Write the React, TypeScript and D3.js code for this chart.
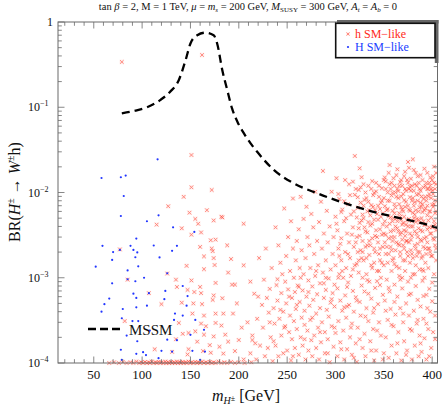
import React from "react";
import * as d3 from "d3";

// charged Higgs mass [GeV] vs BR(H+ -> W+ h)
const mssmMass = [79, 93, 105, 119, 129, 138, 145, 150, 157, 165.5, 174, 177.6, 183, 188, 193, 199, 205, 212, 219, 236, 257, 281, 305, 333, 360, 388, 407];
const mssmBR = [0.085, 0.091, 0.1, 0.122, 0.152, 0.209, 0.358, 0.56, 0.7, 0.75, 0.7, 0.56, 0.27, 0.16, 0.097, 0.066, 0.05, 0.038, 0.03, 0.0185, 0.0128, 0.0098, 0.0078, 0.0062, 0.0052, 0.0044, 0.0038];

const xTicks = [50, 100, 150, 200, 250, 300, 350, 400];
const yDecades = [1e-4, 1e-3, 1e-2, 1e-1, 1];
const yExponents = ["-4", "-3", "-2", "-1", ""];

// H SM-like points (blue)
const hHeavySM: [number, number][] = [
  [116, 2.45e-2], [58, 1.48e-2], [78, 1.51e-2], [83, 1.58e-2], [81, 9.1e-3], [78, 5.3e-3], [117, 5.4e-3], [105, 4.6e-3],
  [132, 3.9e-3], [154, 3.45e-3], [94, 2.88e-3], [59, 2.37e-3], [88, 2.37e-3], [70, 2.0e-3], [77, 2.12e-3], [91, 2.12e-3],
  [112, 2.39e-3], [95, 1.98e-3], [136, 2.37e-3], [131, 2.07e-3], [118, 1.73e-3], [69, 1.62e-3], [93, 1.74e-3], [52, 1.35e-3],
  [96, 1.36e-3], [85, 1.22e-3], [126, 1.13e-3], [69, 8.6e-4], [93, 9.1e-4], [102, 1.0e-3], [85, 9.6e-4], [142, 8.0e-4],
  [147, 6.1e-4], [124, 7.0e-4], [107, 6.6e-4], [91, 6.5e-4], [66, 5.7e-4], [61, 4.9e-4], [94, 5.8e-4], [123, 5.6e-4],
  [105, 4.7e-4], [94, 4.5e-4], [58, 4.0e-4], [80, 4.3e-4], [146, 4.7e-4], [79, 3.35e-4], [133, 3.2e-4], [142, 3.6e-4],
  [134, 3.8e-4], [155, 3.2e-4], [90, 3.1e-4], [96, 3.1e-4], [84, 2.1e-4], [95, 1.8e-4], [108, 2.4e-4], [126, 1.88e-4],
  [136, 1.85e-4], [150, 2.14e-4], [78, 1.43e-4], [101, 1.34e-4], [120, 1.39e-4], [131, 1.36e-4], [152, 1.39e-4], [164, 2.45e-4],
  [165, 1.36e-4], [79, 1.09e-4], [94, 1.28e-4], [104, 1.24e-4], [117, 1.14e-4], [160, 1.09e-4],
];

// h SM-like points (red), low mass region above the floor
const hSparse: [number, number][] = [
  [79, 0.34], [162, 0.41], [151, 2.75e-2], [151, 1.15e-2], [172, 1.07e-2], [143, 8.9e-3], [127, 6.9e-3], [149, 5.8e-3],
  [155, 4.9e-3], [182, 5.2e-3], [115, 4.2e-3], [141, 3.8e-3], [158, 4.3e-3], [161, 3.4e-3], [151, 3.2e-3], [176, 2.8e-3],
  [171, 2.75e-3], [77, 2.15e-3], [160, 2.3e-3], [172, 2.2e-3], [173, 2.05e-3], [164, 1.78e-3], [174, 1.7e-3], [192, 1.66e-3],
  [175, 1.41e-3], [146, 1.38e-3], [164, 1.26e-3], [189, 1.15e-3], [126, 1.12e-3], [85, 9.5e-4], [135, 9.5e-4], [151, 9.3e-4],
  [176, 8.7e-4], [193, 8.3e-4], [196, 8.3e-4], [136, 7.8e-4], [160, 7.8e-4], [147, 7.2e-4], [107, 6.6e-4], [154, 6.8e-4],
  [161, 6.6e-4], [174, 6.2e-4], [183, 5.75e-4], [141, 5.1e-4], [153, 5.0e-4], [162, 4.9e-4], [173, 5.5e-4], [220, 6.0e-4],
  [120, 4.9e-4], [152, 3.8e-4], [164, 3.6e-4], [176, 3.8e-4], [184, 3.8e-4], [194, 3.8e-4], [82, 3.1e-4], [138, 2.95e-4],
  [161, 2.9e-4], [166, 2.7e-4], [176, 2.95e-4], [182, 2.75e-4], [203, 2.6e-4], [148, 2.25e-4], [142, 2.2e-4], [155, 2.35e-4],
  [164, 2.15e-4], [174, 2.05e-4], [186, 2.15e-4], [200, 1.86e-4], [214, 1.86e-4], [217, 1.7e-4], [135, 1.9e-4], [157, 1.78e-4],
  [170, 1.62e-4], [180, 1.55e-4], [189, 1.78e-4], [148, 1.45e-4], [113, 1.45e-4], [163, 1.38e-4], [171, 1.32e-4], [184, 1.29e-4],
  [196, 1.38e-4], [205, 1.1e-4], [147, 1.26e-4], [131, 1.35e-4], [209, 3.0e-4], [198, 5.0e-4], [205, 1.4e-3], [188, 2.4e-3],
  [212, 9.0e-4], [167, 6.2e-3], [174, 4.7e-3], [183, 5.1e-3], [205, 4.3e-3],
];

// h SM-like points piled on the lower edge
const hFloor: [number, number][] = [
  [66, 1.0e-4], [71, 1.02e-4], [76, 1.0e-4], [80, 1.03e-4], [84, 1.0e-4], [88, 1.02e-4], [91, 1.0e-4], [94, 1.04e-4],
  [97, 1.0e-4], [99, 1.02e-4], [101, 1.0e-4], [103, 1.03e-4], [105, 1.0e-4], [107, 1.02e-4], [108, 1.0e-4], [110, 1.04e-4],
  [112, 1.0e-4], [114, 1.02e-4], [115, 1.0e-4], [117, 1.03e-4], [119, 1.0e-4], [120, 1.02e-4], [122, 1.0e-4], [124, 1.04e-4],
  [125, 1.0e-4], [127, 1.02e-4], [128, 1.0e-4], [130, 1.03e-4], [131, 1.0e-4], [133, 1.02e-4], [134, 1.0e-4], [136, 1.04e-4],
  [137, 1.0e-4], [139, 1.02e-4], [140, 1.0e-4], [142, 1.03e-4], [143, 1.0e-4], [145, 1.02e-4], [146, 1.0e-4], [148, 1.04e-4],
  [150, 1.0e-4], [151, 1.02e-4], [153, 1.0e-4], [155, 1.03e-4], [157, 1.0e-4], [158, 1.02e-4], [160, 1.0e-4], [162, 1.04e-4],
  [164, 1.0e-4], [166, 1.02e-4], [168, 1.0e-4], [170, 1.03e-4], [172, 1.0e-4], [174, 1.02e-4], [176, 1.0e-4], [179, 1.04e-4],
  [182, 1.0e-4], [185, 1.02e-4], [188, 1.0e-4], [192, 1.03e-4], [196, 1.0e-4], [200, 1.02e-4], [206, 1.0e-4], [213, 1.02e-4],
];

// h SM-like cloud, 210-300 GeV
const hCloudA: [number, number][] = [
  [212, 1.3e-4], [214, 2.1e-4], [216, 6.5e-4], [218, 1.1e-4], [219, 3.3e-4], [221, 1.7e-3], [222, 1.6e-4], [224, 4.8e-4],
  [225, 2.6e-4], [226, 9.5e-4], [227, 1.2e-4], [228, 2.2e-3], [229, 5.8e-4], [230, 1.5e-4], [231, 3.9e-4], [232, 7.4e-4],
  [233, 2.0e-4], [234, 1.3e-3], [235, 1.05e-4], [236, 4.4e-4], [237, 2.9e-4], [238, 3.9e-3], [238, 1.6e-4], [239, 8.2e-4],
  [240, 5.4e-4], [241, 1.2e-4], [241, 2.4e-3], [242, 3.3e-4], [243, 1.5e-3], [244, 2.1e-4], [244, 6.6e-4], [245, 1.1e-3],
  [246, 4.0e-4], [246, 1.3e-4], [247, 6.5e-3], [247, 2.6e-4], [248, 9.0e-4], [249, 1.8e-3], [249, 5.0e-4], [250, 1.4e-4],
  [251, 3.0e-3], [251, 7.3e-4], [252, 2.3e-4], [253, 1.2e-3], [253, 3.6e-4], [254, 1.07e-4], [254, 4.6e-3], [255, 5.8e-4],
  [255, 1.9e-4], [256, 8.5e-3], [256, 2.2e-3], [257, 1.0e-3], [257, 3.1e-4], [258, 6.8e-4], [258, 1.5e-4], [259, 1.6e-3],
  [259, 4.3e-4], [260, 2.7e-3], [260, 2.5e-4], [261, 8.1e-4], [262, 1.25e-4], [262, 3.7e-3], [263, 5.2e-4], [263, 1.3e-3],
  [264, 2.0e-4], [264, 8.9e-3], [265, 3.4e-4], [265, 2.1e-3], [266, 7.1e-4], [266, 1.6e-4], [267, 4.9e-3], [267, 1.1e-3],
  [268, 4.1e-4], [268, 2.8e-4], [269, 1.7e-3], [269, 1.1e-4], [270, 6.0e-4], [270, 6.8e-3], [271, 2.4e-4], [271, 3.0e-3],
  [272, 9.3e-4], [272, 1.4e-4], [273, 4.7e-4], [273, 2.4e-3], [274, 1.3e-3], [274, 3.2e-4], [275, 1.85e-4], [275, 5.6e-3],
  [276, 7.9e-4], [276, 1.2e-4], [277, 3.9e-3], [277, 5.5e-4], [278, 2.1e-4], [278, 1.9e-3], [279, 1.02e-2], [279, 1.05e-3],
  [280, 3.8e-4], [280, 1.5e-4], [281, 2.7e-3], [281, 6.4e-4], [282, 2.6e-4], [282, 1.4e-3], [283, 4.5e-3], [283, 1.1e-4],
  [284, 8.6e-4], [284, 4.4e-4], [285, 7.8e-3], [285, 1.75e-4], [286, 2.2e-3], [286, 3.0e-4], [287, 1.15e-3], [287, 1.79e-2],
  [288, 5.8e-4], [288, 3.3e-3], [289, 2.3e-4], [289, 1.3e-4], [290, 1.6e-3], [290, 7.2e-4], [291, 4.2e-4], [291, 6.1e-3],
  [292, 1.9e-4], [292, 2.6e-3], [293, 9.8e-4], [293, 3.5e-4], [294, 1.02e-4], [294, 4.0e-3], [295, 5.1e-4], [295, 1.25e-3],
  [296, 2.7e-4], [296, 1.02e-2], [297, 1.9e-3], [297, 6.6e-4], [298, 1.55e-4], [298, 3.0e-3], [299, 8.3e-4], [299, 4.6e-4],
  [300, 2.25e-4], [300, 5.2e-3], [300, 1.4e-3],
];

// h SM-like cloud, 300-350 GeV
const hCloudB: [number, number][] = [
  [301, 1.47e-2], [302, 1.2e-4], [302, 3.6e-3], [302, 7.5e-4], [303, 2.2e-3], [303, 3.1e-4], [304, 1.1e-3], [304, 8.4e-3],
  [305, 1.75e-4], [305, 5.4e-4], [306, 2.9e-3], [306, 1.6e-3], [307, 4.1e-4], [307, 6.3e-3], [308, 2.4e-4], [308, 1.0e-3],
  [309, 4.6e-3], [309, 1.1e-4], [310, 1.4e-2], [310, 2.0e-3], [310, 6.2e-4], [311, 3.4e-4], [311, 1.3e-3], [312, 3.3e-3],
  [312, 1.45e-4], [313, 8.8e-4], [313, 7.3e-3], [314, 2.6e-3], [314, 4.8e-4], [315, 2.0e-4], [315, 1.7e-3], [316, 5.5e-3],
  [316, 1.05e-3], [317, 2.9e-4], [317, 1.25e-4], [318, 1.34e-2], [318, 3.9e-3], [318, 7.0e-4], [319, 2.3e-3], [319, 4.0e-4],
  [320, 1.4e-3], [320, 2.68e-2], [320, 9.4e-3], [321, 1.7e-4], [321, 5.9e-4], [322, 3.0e-3], [322, 1.03e-4], [323, 6.6e-3],
  [323, 2.6e-4], [324, 1.07e-2], [324, 1.15e-3], [325, 1.92e-2], [325, 4.4e-3], [325, 5.2e-4], [326, 2.1e-3], [326, 3.6e-4],
  [327, 1.51e-2], [327, 8.1e-4], [328, 1.5e-4], [328, 2.7e-3], [329, 5.0e-3], [329, 1.6e-3], [330, 2.2e-4], [330, 8.2e-3],
  [330, 6.9e-4], [331, 3.5e-3], [331, 1.2e-4], [332, 1.1e-3], [332, 4.4e-4], [333, 2.4e-3], [333, 6.0e-3], [334, 3.1e-4],
  [334, 1.2e-2], [335, 1.85e-3], [335, 9.0e-4], [336, 4.1e-3], [336, 1.8e-4], [337, 5.7e-4], [337, 7.1e-3], [338, 1.36e-2],
  [338, 2.9e-3], [338, 1.3e-3], [339, 2.5e-4], [339, 3.9e-4], [340, 4.8e-3], [340, 9.9e-3], [340, 1.07e-4], [341, 2.0e-3],
  [341, 7.6e-4], [342, 3.6e-3], [342, 1.4e-4], [343, 1.2e-3], [343, 5.6e-3], [344, 4.9e-4], [344, 2.6e-3], [345, 8.9e-3],
  [345, 3.0e-4], [346, 1.6e-3], [346, 6.4e-3], [347, 2.1e-4], [347, 1.0e-3], [348, 3.2e-3], [348, 1.12e-2], [349, 6.3e-4],
  [349, 4.2e-3], [350, 1.4e-2], [350, 1.4e-3], [350, 1.3e-4], [301, 4.3e-3], [303, 9.6e-3], [305, 2.5e-3], [307, 1.2e-3],
  [309, 7.9e-3], [311, 5.0e-3], [313, 1.9e-3], [315, 9.3e-3], [317, 3.2e-3], [319, 6.0e-3], [321, 1.1e-2], [322, 1.45e-3],
  [324, 3.8e-3], [326, 7.6e-3], [328, 5.5e-3], [329, 1.25e-2], [331, 2.3e-3], [332, 8.6e-3], [334, 4.5e-3], [336, 2.4e-3],
  [337, 1.1e-2], [339, 6.8e-3], [341, 3.1e-3], [342, 1.03e-2], [344, 7.0e-3], [345, 1.9e-3], [347, 5.2e-3], [348, 8.0e-3],
  [349, 2.3e-3], [343, 9.1e-4], [306, 5.9e-3], [314, 1.25e-2], [323, 2.0e-3], [335, 6.2e-3], [346, 3.7e-3], [304, 1.8e-3],
  [312, 4.6e-4], [327, 1.7e-3], [333, 9.4e-4], [340, 1.5e-3],
];

// h SM-like cloud, 350-405 GeV
const hCloudC: [number, number][] = [
  [351, 2.6e-3], [351, 6.9e-3], [351, 5.4e-4], [352, 1.1e-2], [352, 1.9e-3], [352, 2.0e-4], [353, 4.0e-3], [353, 9.5e-4],
  [354, 8.0e-3], [354, 3.2e-4], [354, 1.5e-3], [355, 5.3e-3], [355, 1.15e-4], [355, 2.9e-3], [356, 2.1e-2], [356, 1.25e-2],
  [356, 6.9e-4], [357, 3.5e-3], [357, 2.3e-3], [357, 4.3e-4], [358, 9.2e-3], [358, 1.2e-3], [358, 1.6e-4], [359, 6.1e-3],
  [359, 4.6e-3], [360, 2.7e-4], [360, 1.7e-3], [360, 1.47e-2], [361, 3.0e-3], [361, 8.3e-4], [361, 7.3e-3], [362, 2.1e-3],
  [362, 1.0e-2], [362, 3.7e-4], [363, 5.0e-3], [363, 1.3e-4], [363, 1.35e-3], [364, 1.87e-2], [364, 3.8e-3], [364, 6.0e-4],
  [365, 2.5e-3], [365, 8.6e-3], [365, 2.3e-4], [366, 1.2e-2], [366, 1.05e-3], [366, 5.7e-3], [367, 4.4e-4], [367, 3.2e-3],
  [367, 1.8e-3], [368, 6.7e-3], [368, 1.07e-4], [368, 1.4e-2], [369, 2.8e-3], [369, 7.5e-4], [369, 4.2e-3], [370, 1.6e-3],
  [370, 9.6e-3], [370, 3.0e-4], [371, 5.2e-3], [371, 2.2e-3], [371, 1.8e-4], [372, 1.75e-2], [372, 1.1e-2], [372, 1.2e-3],
  [373, 3.5e-3], [373, 5.0e-4], [373, 7.8e-3], [374, 2.0e-3], [374, 4.7e-3], [374, 1.4e-4], [375, 2.28e-2], [375, 1.3e-2],
  [375, 9.0e-4], [376, 6.3e-3], [376, 2.6e-3], [376, 3.6e-4], [377, 1.5e-3], [377, 8.8e-3], [377, 2.5e-4], [378, 4.0e-3],
  [378, 1.05e-2], [378, 6.5e-4], [379, 3.1e-3], [379, 1.9e-3], [379, 1.1e-4], [380, 2.45e-2], [380, 5.8e-3], [380, 1.1e-3],
  [381, 1.84e-2], [381, 7.0e-3], [381, 4.1e-4], [382, 2.4e-3], [382, 1.25e-2], [382, 1.6e-4], [383, 4.5e-3], [383, 1.4e-3],
  [383, 8.0e-4], [384, 9.4e-3], [384, 3.3e-3], [384, 2.9e-4], [385, 1.55e-2], [385, 2.0e-3], [385, 5.5e-4], [386, 6.0e-3],
  [386, 1.2e-4], [386, 3.8e-3], [387, 1.1e-2], [387, 1.25e-3], [387, 2.1e-4], [388, 2.8e-3], [388, 7.6e-3], [388, 4.6e-4],
  [389, 5.0e-3], [389, 1.7e-3], [389, 1.35e-4], [390, 1.4e-2], [390, 3.5e-3], [390, 9.2e-4], [391, 2.3e-3], [391, 8.4e-3],
  [391, 3.3e-4], [392, 4.2e-3], [392, 1.0e-3], [392, 1.95e-4], [393, 1.2e-2], [393, 6.5e-3], [393, 1.5e-3], [394, 3.0e-3],
  [394, 6.3e-4], [394, 1.1e-4], [395, 1.7e-2], [395, 5.4e-3], [395, 2.6e-3], [396, 9.0e-3], [396, 2.5e-4], [396, 1.3e-3],
  [397, 3.9e-3], [397, 7.4e-4], [397, 1.3e-2], [398, 2.0e-3], [398, 6.0e-3], [398, 4.0e-4], [399, 1.1e-2], [399, 3.3e-3],
  [399, 1.5e-4], [400, 7.2e-3], [400, 1.8e-3], [400, 5.3e-4], [401, 2.9e-3], [401, 1.55e-2], [401, 2.3e-4], [402, 2.01e-2],
  [402, 4.6e-3], [402, 1.1e-3], [403, 8.1e-3], [403, 2.4e-3], [403, 3.6e-4], [404, 1.25e-2], [404, 3.6e-3], [404, 1.6e-3],
  [351, 1.5e-2], [353, 6.2e-3], [355, 1.7e-2], [357, 1.1e-2], [359, 2.7e-3], [361, 1.45e-3], [362, 4.0e-3], [364, 1.1e-2],
  [366, 2.4e-3], [368, 4.8e-3], [370, 6.0e-3], [371, 1.55e-2], [373, 2.7e-3], [375, 4.0e-3], [377, 1.17e-2], [378, 2.1e-3],
  [380, 8.6e-3], [382, 5.5e-3], [383, 1.7e-2], [385, 3.0e-3], [386, 9.6e-3], [388, 1.6e-2], [389, 6.8e-3], [391, 1.2e-3],
  [392, 1.9e-2], [394, 8.0e-3], [395, 3.7e-3], [397, 2.2e-3], [398, 1.5e-2], [400, 1.05e-2], [401, 4.0e-3], [403, 5.7e-3],
  [404, 2.2e-3], [352, 3.2e-3], [356, 4.3e-3], [360, 5.0e-3], [363, 8.9e-3], [367, 1.33e-2], [369, 1.0e-3], [372, 3.1e-3],
  [376, 1.95e-2], [379, 4.6e-3], [384, 1.8e-3], [387, 4.4e-3], [390, 5.9e-3], [393, 2.2e-3], [396, 1.1e-2], [399, 8.6e-3],
  [402, 1.3e-2], [358, 2.1e-3],
];

// h SM-like, densest core 320-405 GeV
const hCore: [number, number][] = [
  [321, 2.6e-3], [322, 5.1e-3], [323, 8.8e-3], [324, 1.6e-3], [325, 3.1e-3], [326, 1.15e-2], [327, 4.7e-3], [328, 2.0e-3],
  [329, 7.0e-3], [330, 3.9e-3], [331, 1.0e-2], [332, 1.7e-3], [333, 3.4e-3], [334, 7.8e-3], [335, 2.7e-3], [336, 5.4e-3],
  [337, 1.4e-3], [338, 4.3e-3], [339, 9.3e-3], [340, 2.2e-3], [341, 6.2e-3], [342, 1.3e-2], [343, 3.0e-3], [344, 4.8e-3],
  [345, 1.2e-2], [346, 2.2e-3], [347, 7.6e-3], [348, 1.5e-3], [349, 5.7e-3], [350, 3.3e-3], [350, 8.6e-3], [351, 4.6e-3],
  [352, 1.35e-2], [353, 2.3e-3], [354, 1.0e-2], [354, 6.4e-3], [355, 1.9e-3], [356, 8.0e-3], [357, 5.1e-3], [358, 3.0e-3],
  [358, 1.3e-2], [359, 1.6e-3], [359, 9.9e-3], [360, 3.6e-3], [361, 5.7e-3], [361, 1.2e-2], [362, 6.7e-3], [363, 2.6e-3],
  [363, 1.6e-2], [364, 4.6e-3], [365, 1.04e-2], [365, 3.5e-3], [366, 7.3e-3], [367, 2.0e-3], [367, 5.2e-3], [368, 9.0e-3],
  [368, 3.4e-3], [369, 1.2e-2], [369, 6.3e-3], [370, 2.4e-3], [370, 4.4e-3], [371, 8.1e-3], [371, 3.6e-3], [372, 1.6e-3],
  [372, 6.8e-3], [373, 1.05e-2], [373, 4.2e-3], [374, 1.4e-2], [374, 2.7e-3], [375, 7.0e-3], [375, 1.8e-3], [376, 4.9e-3],
  [376, 1.1e-2], [377, 3.3e-3], [377, 6.1e-3], [378, 1.45e-2], [378, 2.8e-3], [379, 8.0e-3], [379, 1.2e-2], [380, 4.0e-3],
  [380, 1.7e-3], [381, 5.0e-3], [381, 1.05e-2], [382, 3.5e-3], [382, 7.7e-3], [383, 2.2e-3], [383, 6.2e-3], [384, 1.2e-2],
  [384, 4.9e-3], [385, 8.0e-3], [385, 2.5e-3], [386, 1.3e-2], [386, 4.8e-3], [387, 6.7e-3], [387, 2.0e-3], [388, 3.6e-3],
  [388, 1.05e-2], [389, 9.0e-3], [389, 2.7e-3], [390, 7.3e-3], [390, 1.8e-3], [391, 4.6e-3], [391, 1.15e-2], [392, 6.2e-3],
  [392, 2.9e-3], [393, 8.9e-3], [393, 4.2e-3], [394, 1.3e-2], [394, 1.9e-3], [395, 7.0e-3], [395, 1.1e-2], [396, 4.7e-3],
  [396, 2.2e-3], [397, 6.0e-3], [397, 9.6e-3], [398, 3.3e-3], [398, 1.2e-2], [399, 5.1e-3], [399, 1.8e-3], [400, 1.4e-2],
  [400, 3.9e-3], [401, 6.8e-3], [401, 9.6e-3], [402, 2.8e-3], [402, 7.3e-3], [403, 1.1e-2], [403, 4.2e-3], [404, 6.0e-3],
  [404, 1.7e-2],
];

// h SM-like, extra low-BR fill 230-405 GeV
const hLowFill: [number, number][] = [
  [232, 3.0e-4], [236, 1.8e-4], [240, 9.6e-4], [243, 4.2e-4], [248, 2.7e-4], [252, 6.0e-4], [256, 1.2e-4], [260, 4.8e-4],
  [264, 1.0e-3], [268, 1.9e-4], [272, 6.8e-4], [276, 3.4e-4], [280, 1.2e-3], [284, 2.3e-4], [288, 8.6e-4], [292, 1.3e-4],
  [296, 5.6e-4], [299, 2.6e-4], [303, 1.0e-3], [306, 1.45e-4], [309, 4.5e-4], [312, 7.8e-4], [316, 2.6e-4], [319, 1.15e-4],
  [322, 5.4e-4], [325, 1.9e-4], [328, 1.0e-3], [331, 3.5e-4], [334, 6.5e-4], [337, 1.4e-4], [340, 4.4e-4], [343, 2.4e-4],
  [346, 8.2e-4], [349, 1.1e-4], [352, 4.1e-4], [355, 7.6e-4], [358, 2.8e-4], [361, 5.2e-4], [364, 1.7e-4], [367, 9.5e-4],
  [370, 3.8e-4], [373, 1.25e-4], [376, 6.3e-4], [379, 2.4e-4], [382, 1.1e-3], [385, 3.2e-4], [388, 1.7e-4], [391, 6.1e-4],
  [394, 2.9e-4], [397, 1.2e-4], [400, 8.8e-4], [403, 1.9e-4], [366, 1.3e-3], [378, 1.0e-3], [390, 1.25e-3], [345, 1.2e-3],
  [318, 1.25e-3], [290, 1.0e-3], [262, 7.8e-4], [395, 4.4e-4],
];

const W = 443;
const H = 409;
const plot = { left: 58, right: 437.5, top: 22, bottom: 363 };
const serif = "'Liberation Serif', 'DejaVu Serif', 'Times New Roman', serif";
const frameColor = "#6a6a6a";
const redMark = "#ff3b2b";
const blueMark = "#2236ff";

function XMark({ x, y, s = 1.8 }: { x: number; y: number; s?: number }) {
  return (
    <g>
      <rect x={x - s - 0.5} y={y - s - 0.5} width={2 * s + 1} height={2 * s + 1} fill="#ff8c80" opacity={0.14} />
      <path d={`M${x - s},${y - s}L${x + s},${y + s}M${x - s},${y + s}L${x + s},${y - s}`} stroke={redMark} strokeWidth={0.9} opacity={0.62} />
    </g>
  );
}

export default function App() {
  const x = d3.scaleLinear().domain([13, 405.5]).range([plot.left, plot.right]);
  const y = d3.scaleLog().domain([1e-4, 1]).range([plot.bottom, plot.top]);

  const xMinor = d3.range(20, 406, 10).filter((v) => v % 50 !== 0);
  const yMinor: number[] = [];
  yDecades.slice(0, -1).forEach((d) => {
    for (let k = 2; k <= 9; k++) yMinor.push(d * k);
  });

  const mssm = mssmMass.map((m, i) => [m, mssmBR[i]] as [number, number]);
  const line = d3
    .line<[number, number]>()
    .x((d) => x(d[0]))
    .y((d) => y(d[1]))
    .curve(d3.curveMonotoneX);

  const redPts = [...hSparse, ...hCloudA, ...hLowFill, ...hCloudB, ...hCloudC, ...hCore, ...hFloor];

  const majLen = 6.5;
  const minLen = 3.8;

  return (
    <svg width={W} height={H} style={{ position: "absolute", left: 0, top: 0, background: "#fff" }} fontFamily={serif}>
      <defs>
        <clipPath id="plotClip">
          <rect x={plot.left} y={plot.top - 4} width={plot.right - plot.left} height={plot.bottom - plot.top + 8} />
        </clipPath>
      </defs>

      {/* title */}
      <text x={248} y={10} textAnchor="middle" fontSize={10.5} fill="#111">
        <tspan>{"tan "}</tspan>
        <tspan fontStyle="italic">β</tspan>
        <tspan>{" = 2,  M = 1 TeV,  "}</tspan>
        <tspan fontStyle="italic">μ</tspan>
        <tspan>{" = "}</tspan>
        <tspan fontStyle="italic">m</tspan>
        <tspan fontStyle="italic" fontSize={7} dy={2}>s</tspan>
        <tspan dy={-2}>{" = 200 GeV,  "}</tspan>
        <tspan fontStyle="italic">M</tspan>
        <tspan fontSize={7} dy={2}>SUSY</tspan>
        <tspan dy={-2}>{" = 300 GeV, "}</tspan>
        <tspan fontStyle="italic">A</tspan>
        <tspan fontStyle="italic" fontSize={7} dy={2}>t</tspan>
        <tspan dy={-2}>{" = "}</tspan>
        <tspan fontStyle="italic">A</tspan>
        <tspan fontStyle="italic" fontSize={7} dy={2}>b</tspan>
        <tspan dy={-2}>{" = 0"}</tspan>
      </text>

      {/* scatter */}
      <g clipPath="url(#plotClip)">
        {redPts.map((d, i) => (
          <XMark key={"r" + i} x={x(d[0])} y={y(d[1])} />
        ))}
        {hHeavySM.map((d, i) => (
          <circle key={"b" + i} cx={x(d[0])} cy={y(d[1])} r={1.1} fill={blueMark} />
        ))}
        <path d={line(mssm) ?? ""} fill="none" stroke="#000" strokeWidth={2.3} strokeDasharray="8,5" />
      </g>

      {/* frame */}
      <rect x={plot.left} y={plot.top} width={plot.right - plot.left} height={plot.bottom - plot.top} fill="none" stroke={frameColor} strokeWidth={1} />

      {/* ticks on all four sides */}
      <g stroke={frameColor} strokeWidth={0.8}>
        {xTicks.map((t) => (
          <g key={"xt" + t}>
            <line x1={x(t)} x2={x(t)} y1={plot.bottom} y2={plot.bottom - majLen} />
            <line x1={x(t)} x2={x(t)} y1={plot.top} y2={plot.top + majLen} />
          </g>
        ))}
        {xMinor.map((t) => (
          <g key={"xm" + t}>
            <line x1={x(t)} x2={x(t)} y1={plot.bottom} y2={plot.bottom - minLen} />
            <line x1={x(t)} x2={x(t)} y1={plot.top} y2={plot.top + minLen} />
          </g>
        ))}
        {yDecades.map((t) => (
          <g key={"yt" + t}>
            <line x1={plot.left} x2={plot.left + majLen} y1={y(t)} y2={y(t)} />
            <line x1={plot.right} x2={plot.right - majLen} y1={y(t)} y2={y(t)} />
          </g>
        ))}
        {yMinor.map((t, i) => (
          <g key={"ym" + i}>
            <line x1={plot.left} x2={plot.left + minLen} y1={y(t)} y2={y(t)} />
            <line x1={plot.right} x2={plot.right - minLen} y1={y(t)} y2={y(t)} />
          </g>
        ))}
      </g>

      {/* x tick labels */}
      {xTicks.map((t) => (
        <text key={"xl" + t} x={x(t)} y={379} textAnchor="middle" fontSize={13} fill="#111">
          {t}
        </text>
      ))}

      {/* y tick labels */}
      {yDecades.map((t, i) =>
        yExponents[i] === "" ? (
          <text key={"yl" + i} x={53} y={y(t) + 4} textAnchor="end" fontSize={12} fill="#111">
            1
          </text>
        ) : (
          <text key={"yl" + i} x={28} y={y(t) + 4} fontSize={12} fill="#111">
            <tspan>10</tspan>
            <tspan fontSize={8} dy={-5}>{"−" + yExponents[i].slice(1)}</tspan>
          </text>
        )
      )}

      {/* axis titles */}
      <text x={246} y={401} textAnchor="middle" fontSize={16} fill="#111">
        <tspan fontStyle="italic">m</tspan>
        <tspan fontStyle="italic" fontSize={10} dy={3}>H</tspan>
        <tspan fontSize={8} dy={-3}>±</tspan>
        <tspan>{" [GeV]"}</tspan>
      </text>
      <text transform="translate(20,192) rotate(-90)" textAnchor="middle" fontSize={16} fill="#111">
        <tspan>BR(</tspan>
        <tspan fontStyle="italic">H</tspan>
        <tspan fontSize={10} dy={-6}>±</tspan>
        <tspan dy={6}>{" → "}</tspan>
        <tspan fontStyle="italic">W</tspan>
        <tspan fontSize={10} dy={-6}>±</tspan>
        <tspan dy={6}>h)</tspan>
      </text>

      {/* legend with shadow */}
      <rect x={337} y={20} width={101.5} height={3.5} fill="#666" />
      <rect x={434.8} y={20} width={3.7} height={43} fill="#666" />
      <rect x={335.7} y={23.3} width={99.3} height={34.4} fill="#fff" stroke="#111" strokeWidth={1.6} />
      <XMark x={348} y={34} s={1.5} />
      <text x={355} y={38} fontSize={12} fill="#ff2a1a">h SM−like</text>
      <circle cx={348} cy={47} r={1.1} fill={blueMark} />
      <text x={355} y={51} fontSize={12} fill="#2040ff">H SM−like</text>

      {/* MSSM key */}
      <line x1={88} x2={121} y1={329} y2={329} stroke="#000" strokeWidth={2.3} strokeDasharray="8,4" />
      <text x={129} y={334.5} fontSize={15} fill="#111">MSSM</text>
    </svg>
  );
}
